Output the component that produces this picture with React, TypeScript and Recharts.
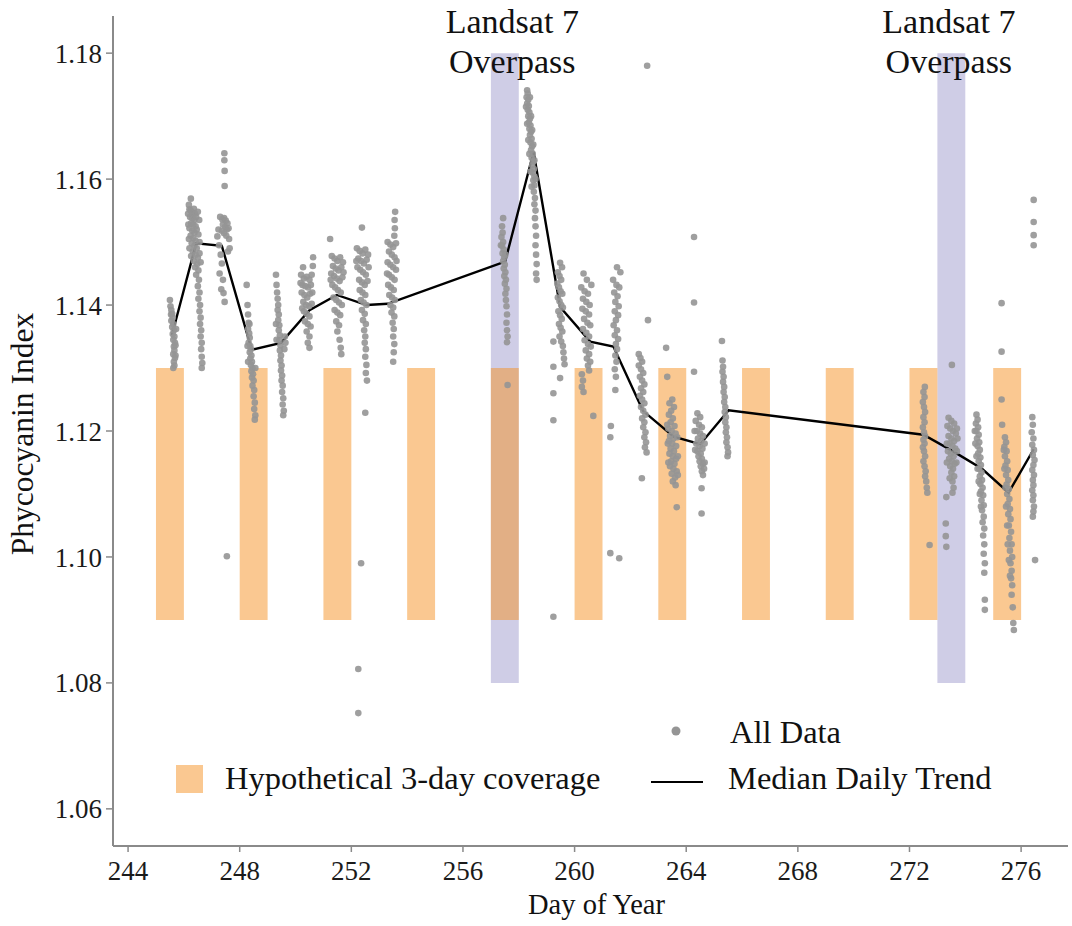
import React from 'react';
import { ComposedChart, Scatter, Line, XAxis, YAxis, ReferenceArea, Legend } from 'recharts';

const FONT = '"Liberation Serif", "Times New Roman", serif';

const xTicks = [244, 248, 252, 256, 260, 264, 268, 272, 276];
const yTicks = [1.06, 1.08, 1.1, 1.12, 1.14, 1.16, 1.18];

const coverageWindows: [number, number][] = [
  [245, 246], [248, 249], [251, 252], [254, 255], [257, 258], [260, 261],
  [263, 264], [266, 267], [269, 270], [272, 273], [275, 276],
];
const coverageRange: [number, number] = [1.09, 1.13];
const overpassWindows: [number, number][] = [[257, 258], [273, 274]];
const overpassRange: [number, number] = [1.08, 1.18];

const medianDays = [245.57, 246.44, 247.36, 248.43, 249.48, 250.5, 251.48, 252.55, 253.3, 257.51, 258.53, 259.48, 260.56, 261.39, 262.45, 263.55, 264.5, 265.52, 272.5, 273.55, 274.6, 275.55, 276.45];
const medianValues = [1.1352, 1.1498, 1.1494, 1.1329, 1.134, 1.1392, 1.1416, 1.14, 1.1402, 1.1469, 1.1643, 1.1397, 1.1342, 1.1334, 1.1232, 1.1191, 1.1179, 1.1233, 1.1194, 1.1168, 1.114, 1.1102, 1.1171];

const d245: [number, number][] = [[245.50,1.1408],[245.52,1.1398],[245.55,1.1392],[245.58,1.1386],[245.60,1.1380],[245.55,1.1375],[245.62,1.1370],[245.58,1.1365],[245.64,1.1360],[245.60,1.1354],[245.66,1.1350],[245.62,1.1345],[245.68,1.1340],[245.64,1.1334],[245.66,1.1328],[245.62,1.1322],[245.68,1.1316],[245.64,1.1310],[245.66,1.1304],[245.62,1.1300],[245.70,1.1336],[245.72,1.1362],[245.54,1.1385],[245.70,1.1320]];
const d246: [number, number][] = [[246.25,1.1569],[246.18,1.1559],[246.20,1.1552],[246.24,1.1550],[246.28,1.1548],[246.32,1.1546],[246.36,1.1553],[246.40,1.1545],[246.22,1.1540],[246.30,1.1538],[246.38,1.1535],[246.44,1.1540],[246.26,1.1530],[246.34,1.1528],[246.42,1.1525],[246.20,1.1522],[246.30,1.1518],[246.38,1.1515],[246.46,1.1520],[246.24,1.1510],[246.34,1.1506],[246.42,1.1502],[246.28,1.1498],[246.38,1.1494],[246.46,1.1490],[246.32,1.1485],[246.42,1.1480],[246.50,1.1475],[246.36,1.1470],[246.48,1.1465],[246.52,1.1455],[246.44,1.1448],[246.54,1.1440],[246.50,1.1430],[246.56,1.1420],[246.52,1.1410],[246.58,1.1400],[246.56,1.1390],[246.60,1.1380],[246.58,1.1370],[246.62,1.1360],[246.60,1.1350],[246.64,1.1340],[246.62,1.1330],[246.64,1.1318],[246.66,1.1308],[246.64,1.1300],[246.15,1.1545],[246.50,1.1548],[246.55,1.1535],[246.16,1.1528],[246.52,1.1512],[246.18,1.1505],[246.56,1.1500],[246.20,1.1490],[246.26,1.1478],[246.56,1.1482],[246.60,1.1468],[246.40,1.1460]];
const d247: [number, number][] = [[247.45,1.1641],[247.45,1.1630],[247.46,1.1613],[247.46,1.1589],[247.30,1.1540],[247.38,1.1536],[247.44,1.1538],[247.50,1.1534],[247.56,1.1530],[247.40,1.1528],[247.48,1.1524],[247.54,1.1520],[247.60,1.1522],[247.36,1.1518],[247.44,1.1514],[247.52,1.1510],[247.20,1.1509],[247.26,1.1495],[247.32,1.1480],[247.58,1.1485],[247.64,1.1490],[247.36,1.1466],[247.28,1.1450],[247.40,1.1440],[247.34,1.1425],[247.42,1.1419],[247.46,1.1405],[247.54,1.1001],[247.62,1.1505],[247.24,1.1520]];
const d248: [number, number][] = [[248.25,1.1432],[248.28,1.1400],[248.30,1.1385],[248.32,1.1372],[248.30,1.1362],[248.34,1.1355],[248.36,1.1348],[248.32,1.1340],[248.38,1.1335],[248.40,1.1330],[248.36,1.1325],[248.42,1.1320],[248.38,1.1315],[248.44,1.1310],[248.40,1.1305],[248.46,1.1300],[248.42,1.1295],[248.48,1.1290],[248.44,1.1285],[248.50,1.1280],[248.46,1.1272],[248.52,1.1265],[248.50,1.1255],[248.54,1.1245],[248.52,1.1235],[248.56,1.1225],[248.54,1.1218],[248.35,1.1370],[248.28,1.1335],[248.30,1.1310],[248.56,1.1300]];
const d249: [number, number][] = [[249.30,1.1448],[249.32,1.1432],[249.34,1.1420],[249.36,1.1410],[249.38,1.1400],[249.36,1.1392],[249.40,1.1385],[249.38,1.1376],[249.42,1.1368],[249.40,1.1360],[249.44,1.1352],[249.42,1.1344],[249.46,1.1336],[249.44,1.1328],[249.48,1.1320],[249.46,1.1312],[249.50,1.1304],[249.48,1.1296],[249.52,1.1288],[249.50,1.1280],[249.54,1.1272],[249.52,1.1262],[249.56,1.1252],[249.54,1.1242],[249.58,1.1232],[249.56,1.1225],[249.62,1.1350],[249.64,1.1340],[249.60,1.1330],[249.30,1.1370],[249.32,1.1345]];
const d250: [number, number][] = [[250.27,1.1460],[250.63,1.1476],[250.62,1.1462],[250.20,1.1448],[250.30,1.1442],[250.40,1.1445],[250.50,1.1440],[250.58,1.1448],[250.25,1.1432],[250.35,1.1430],[250.45,1.1428],[250.55,1.1432],[250.22,1.1420],[250.32,1.1416],[250.42,1.1412],[250.52,1.1418],[250.28,1.1405],[250.38,1.1400],[250.48,1.1398],[250.58,1.1402],[250.30,1.1390],[250.40,1.1386],[250.50,1.1382],[250.34,1.1374],[250.44,1.1370],[250.54,1.1366],[250.40,1.1358],[250.50,1.1350],[250.44,1.1340],[250.50,1.1332],[250.18,1.1435],[250.60,1.1420],[250.24,1.1395]];
const d251: [number, number][] = [[251.24,1.1505],[251.30,1.1478],[251.40,1.1474],[251.50,1.1470],[251.60,1.1476],[251.70,1.1468],[251.34,1.1462],[251.44,1.1458],[251.54,1.1455],[251.64,1.1460],[251.28,1.1450],[251.38,1.1446],[251.48,1.1442],[251.58,1.1438],[251.68,1.1444],[251.32,1.1432],[251.42,1.1428],[251.52,1.1424],[251.62,1.1420],[251.36,1.1412],[251.46,1.1408],[251.56,1.1404],[251.66,1.1400],[251.40,1.1392],[251.50,1.1388],[251.60,1.1384],[251.46,1.1374],[251.56,1.1368],[251.50,1.1358],[251.58,1.1345],[251.62,1.1332],[251.64,1.1322],[251.72,1.1452],[251.26,1.1440]];
const d252: [number, number][] = [[252.38,1.1523],[252.20,1.1490],[252.30,1.1486],[252.40,1.1482],[252.50,1.1488],[252.60,1.1480],[252.25,1.1474],[252.35,1.1470],[252.45,1.1466],[252.55,1.1472],[252.22,1.1460],[252.32,1.1456],[252.42,1.1452],[252.52,1.1448],[252.28,1.1440],[252.38,1.1436],[252.48,1.1432],[252.58,1.1438],[252.30,1.1424],[252.40,1.1420],[252.50,1.1416],[252.34,1.1408],[252.44,1.1404],[252.54,1.1400],[252.38,1.1392],[252.48,1.1386],[252.42,1.1376],[252.52,1.1370],[252.46,1.1360],[252.50,1.1350],[252.48,1.1340],[252.52,1.1330],[252.50,1.1318],[252.54,1.1305],[252.52,1.1292],[252.56,1.1280],[252.50,1.1229],[252.35,1.0990],[252.25,1.0822],[252.25,1.0752],[252.62,1.1460],[252.18,1.1470]];
const d253: [number, number][] = [[253.57,1.1548],[253.55,1.1535],[253.56,1.1522],[253.54,1.1510],[253.30,1.1500],[253.40,1.1496],[253.50,1.1492],[253.60,1.1498],[253.35,1.1485],[253.45,1.1480],[253.55,1.1476],[253.30,1.1468],[253.40,1.1464],[253.50,1.1460],[253.60,1.1456],[253.35,1.1448],[253.45,1.1444],[253.55,1.1440],[253.32,1.1432],[253.42,1.1428],[253.52,1.1424],[253.36,1.1416],[253.46,1.1412],[253.56,1.1408],[253.40,1.1400],[253.50,1.1396],[253.44,1.1388],[253.54,1.1382],[253.48,1.1372],[253.52,1.1362],[253.50,1.1350],[253.54,1.1338],[253.52,1.1325],[253.50,1.1310],[253.62,1.1470],[253.28,1.1450]];
const d257: [number, number][] = [[257.44,1.1538],[257.40,1.1525],[257.42,1.1515],[257.38,1.1508],[257.44,1.1500],[257.40,1.1494],[257.46,1.1488],[257.42,1.1482],[257.48,1.1476],[257.44,1.1470],[257.50,1.1464],[257.46,1.1458],[257.52,1.1452],[257.48,1.1446],[257.54,1.1440],[257.50,1.1434],[257.56,1.1426],[257.52,1.1418],[257.54,1.1408],[257.56,1.1398],[257.58,1.1385],[257.56,1.1372],[257.58,1.1360],[257.60,1.1350],[257.58,1.1341],[257.60,1.1273],[257.36,1.1495],[257.52,1.1480]];
const d258: [number, number][] = [[258.30,1.1741],[258.32,1.1736],[258.28,1.1730],[258.34,1.1726],[258.30,1.1720],[258.36,1.1716],[258.32,1.1710],[258.38,1.1706],[258.34,1.1700],[258.40,1.1696],[258.36,1.1690],[258.42,1.1685],[258.38,1.1680],[258.44,1.1675],[258.40,1.1670],[258.46,1.1664],[258.42,1.1658],[258.48,1.1652],[258.44,1.1646],[258.50,1.1640],[258.46,1.1634],[258.52,1.1628],[258.48,1.1622],[258.54,1.1616],[258.50,1.1610],[258.56,1.1604],[258.52,1.1598],[258.56,1.1590],[258.54,1.1580],[258.58,1.1570],[258.56,1.1560],[258.60,1.1550],[258.58,1.1538],[258.60,1.1525],[258.62,1.1510],[258.60,1.1495],[258.62,1.1480],[258.64,1.1465],[258.62,1.1450],[258.64,1.1440],[258.40,1.1730],[258.26,1.1715],[258.44,1.1700],[258.30,1.1688],[258.48,1.1678],[258.34,1.1662],[258.52,1.1655],[258.38,1.1640],[258.56,1.1630],[258.42,1.1612],[258.60,1.1600],[258.46,1.1588]];
const d259: [number, number][] = [[259.48,1.1467],[259.55,1.1460],[259.40,1.1452],[259.46,1.1446],[259.52,1.1440],[259.38,1.1434],[259.44,1.1428],[259.50,1.1422],[259.56,1.1418],[259.40,1.1412],[259.46,1.1406],[259.52,1.1400],[259.58,1.1396],[259.42,1.1390],[259.48,1.1384],[259.54,1.1378],[259.44,1.1370],[259.50,1.1364],[259.56,1.1358],[259.46,1.1350],[259.52,1.1342],[259.58,1.1335],[259.60,1.1325],[259.62,1.1315],[259.64,1.1306],[259.24,1.1342],[259.24,1.1302],[259.24,1.1260],[259.24,1.1217],[259.48,1.1284],[259.24,1.0905]];
const d260: [number, number][] = [[260.32,1.1450],[260.44,1.1440],[260.60,1.1432],[260.24,1.1428],[260.36,1.1422],[260.48,1.1418],[260.30,1.1410],[260.42,1.1405],[260.54,1.1400],[260.28,1.1394],[260.40,1.1390],[260.52,1.1385],[260.34,1.1378],[260.46,1.1372],[260.56,1.1368],[260.30,1.1362],[260.42,1.1356],[260.52,1.1350],[260.36,1.1344],[260.48,1.1338],[260.58,1.1334],[260.40,1.1328],[260.52,1.1322],[260.44,1.1315],[260.56,1.1310],[260.48,1.1304],[260.52,1.1296],[260.26,1.1290],[260.30,1.1280],[260.26,1.1270],[260.32,1.1262],[260.67,1.1224]];
const d261: [number, number][] = [[261.52,1.1460],[261.64,1.1452],[261.38,1.1440],[261.50,1.1432],[261.60,1.1428],[261.42,1.1420],[261.54,1.1414],[261.46,1.1405],[261.58,1.1398],[261.44,1.1390],[261.56,1.1384],[261.48,1.1376],[261.40,1.1368],[261.52,1.1360],[261.44,1.1352],[261.56,1.1346],[261.48,1.1338],[261.52,1.1330],[261.46,1.1320],[261.50,1.1310],[261.44,1.1298],[261.48,1.1286],[261.46,1.1265],[261.30,1.1208],[261.28,1.1190],[261.28,1.1006],[261.60,1.0998]];
const d262: [number, number][] = [[262.60,1.1780],[262.63,1.1376],[262.30,1.1322],[262.36,1.1316],[262.42,1.1310],[262.30,1.1304],[262.38,1.1298],[262.46,1.1292],[262.34,1.1286],[262.42,1.1280],[262.50,1.1274],[262.38,1.1268],[262.46,1.1262],[262.34,1.1256],[262.42,1.1250],[262.50,1.1244],[262.38,1.1238],[262.46,1.1232],[262.54,1.1226],[262.42,1.1220],[262.50,1.1214],[262.46,1.1206],[262.54,1.1198],[262.50,1.1190],[262.56,1.1182],[262.52,1.1174],[262.58,1.1166],[262.41,1.1125]];
const d263: [number, number][] = [[263.28,1.1332],[263.32,1.1286],[263.50,1.1250],[263.40,1.1244],[263.56,1.1238],[263.46,1.1232],[263.38,1.1226],[263.52,1.1220],[263.44,1.1214],[263.58,1.1208],[263.36,1.1204],[263.48,1.1200],[263.62,1.1196],[263.42,1.1192],[263.54,1.1188],[263.38,1.1184],[263.50,1.1180],[263.64,1.1176],[263.44,1.1172],[263.56,1.1168],[263.40,1.1164],[263.52,1.1160],[263.64,1.1156],[263.46,1.1152],[263.58,1.1148],[263.42,1.1144],[263.54,1.1140],[263.66,1.1136],[263.48,1.1132],[263.60,1.1126],[263.52,1.1120],[263.62,1.1114],[263.66,1.1079],[263.32,1.1210],[263.34,1.1180],[263.36,1.1150],[263.68,1.1190],[263.70,1.1160],[263.70,1.1130]];
const d264: [number, number][] = [[264.28,1.1508],[264.28,1.1404],[264.28,1.1294],[264.40,1.1228],[264.50,1.1222],[264.34,1.1216],[264.46,1.1210],[264.56,1.1206],[264.38,1.1200],[264.50,1.1196],[264.60,1.1192],[264.42,1.1188],[264.54,1.1184],[264.36,1.1180],[264.48,1.1176],[264.58,1.1172],[264.40,1.1168],[264.52,1.1164],[264.44,1.1160],[264.56,1.1156],[264.48,1.1152],[264.60,1.1148],[264.52,1.1144],[264.64,1.1140],[264.56,1.1136],[264.60,1.1130],[264.55,1.1109],[264.55,1.1069],[264.30,1.1200],[264.32,1.1170],[264.66,1.1180],[264.66,1.1150]];
const d265: [number, number][] = [[265.28,1.1343],[265.30,1.1312],[265.32,1.1302],[265.30,1.1294],[265.34,1.1286],[265.32,1.1278],[265.36,1.1270],[265.34,1.1262],[265.38,1.1254],[265.36,1.1246],[265.40,1.1238],[265.38,1.1230],[265.42,1.1222],[265.40,1.1214],[265.44,1.1206],[265.42,1.1198],[265.46,1.1190],[265.44,1.1182],[265.48,1.1174],[265.50,1.1166],[265.48,1.1160]];
const d272: [number, number][] = [[272.55,1.1270],[272.50,1.1262],[272.54,1.1254],[272.48,1.1246],[272.52,1.1238],[272.56,1.1230],[272.50,1.1222],[272.54,1.1214],[272.48,1.1206],[272.52,1.1198],[272.56,1.1192],[272.50,1.1186],[272.54,1.1180],[272.48,1.1174],[272.52,1.1168],[272.56,1.1160],[272.50,1.1152],[272.54,1.1144],[272.58,1.1136],[272.56,1.1128],[272.60,1.1120],[272.62,1.1110],[272.64,1.1102],[272.72,1.1019]];
const d273: [number, number][] = [[273.52,1.1305],[273.40,1.1221],[273.50,1.1216],[273.60,1.1212],[273.36,1.1208],[273.46,1.1204],[273.56,1.1200],[273.66,1.1196],[273.40,1.1192],[273.50,1.1188],[273.60,1.1184],[273.44,1.1180],[273.54,1.1176],[273.64,1.1172],[273.38,1.1168],[273.48,1.1164],[273.58,1.1160],[273.42,1.1156],[273.52,1.1152],[273.62,1.1148],[273.46,1.1144],[273.56,1.1140],[273.50,1.1134],[273.60,1.1128],[273.54,1.1120],[273.58,1.1110],[273.54,1.1102],[273.32,1.1095],[273.30,1.1053],[273.30,1.1033],[273.32,1.1016],[273.70,1.1204],[273.72,1.1188],[273.70,1.1168],[273.34,1.1180],[273.34,1.1150],[273.68,1.1150],[273.44,1.1125]];
const d274: [number, number][] = [[274.40,1.1226],[274.44,1.1218],[274.38,1.1212],[274.46,1.1206],[274.40,1.1200],[274.48,1.1194],[274.42,1.1188],[274.50,1.1182],[274.44,1.1176],[274.52,1.1170],[274.46,1.1164],[274.54,1.1158],[274.48,1.1152],[274.56,1.1146],[274.50,1.1140],[274.58,1.1134],[274.52,1.1128],[274.60,1.1122],[274.54,1.1116],[274.62,1.1110],[274.56,1.1104],[274.64,1.1098],[274.58,1.1090],[274.66,1.1082],[274.60,1.1074],[274.66,1.1064],[274.62,1.1055],[274.68,1.1045],[274.64,1.1034],[274.68,1.1020],[274.66,1.1005],[274.70,1.0990],[274.68,1.0975],[274.70,1.0932],[274.70,1.0916],[274.34,1.1200],[274.36,1.1180],[274.40,1.1160],[274.44,1.1140],[274.48,1.1120],[274.52,1.1100],[274.56,1.1080]];
const d275: [number, number][] = [[275.30,1.1403],[275.30,1.1326],[275.30,1.1250],[275.32,1.1210],[275.42,1.1190],[275.46,1.1182],[275.40,1.1175],[275.48,1.1168],[275.42,1.1160],[275.50,1.1152],[275.44,1.1145],[275.52,1.1138],[275.46,1.1130],[275.54,1.1122],[275.48,1.1115],[275.56,1.1108],[275.50,1.1100],[275.58,1.1092],[275.52,1.1084],[275.60,1.1076],[275.54,1.1068],[275.62,1.1060],[275.56,1.1050],[275.64,1.1040],[275.58,1.1030],[275.66,1.1020],[275.60,1.1010],[275.68,1.1000],[275.62,1.0990],[275.66,1.0978],[275.64,1.0966],[275.68,1.0955],[275.66,1.0940],[275.70,1.0920],[275.72,1.0895],[275.74,1.0884],[275.38,1.1170],[275.40,1.1140],[275.44,1.1110],[275.46,1.1080],[275.50,1.1050],[275.52,1.1020],[275.56,1.0995],[275.60,1.0970]];
const d276: [number, number][] = [[276.45,1.1567],[276.45,1.1532],[276.45,1.1511],[276.45,1.1495],[276.40,1.1222],[276.42,1.1210],[276.38,1.1198],[276.44,1.1188],[276.40,1.1178],[276.46,1.1170],[276.42,1.1162],[276.48,1.1154],[276.44,1.1146],[276.40,1.1138],[276.46,1.1130],[276.42,1.1122],[276.44,1.1114],[276.40,1.1106],[276.44,1.1098],[276.42,1.1090],[276.46,1.1080],[276.44,1.1072],[276.42,1.1064],[276.50,1.0995]];

const allDays = [d245, d246, d247, d248, d249, d250, d251, d252, d253, d257, d258, d259, d260, d261, d262, d263, d264, d265, d272, d273, d274, d275, d276];
const allPoints = allDays.flat().map(([x, y]) => ({ x, y }));
const medianData = medianDays.map((x, i) => ({ x, y: medianValues[i] }));

const ORANGE = '#F59123';
const PURPLE = '#CFCDE6';
const POINT = '#959595';

const Dot = (props: any) => {
  const { cx, cy } = props;
  if (cx == null || cy == null) return null;
  return <circle cx={cx} cy={cy} r={3.3} fill={POINT} fillOpacity={0.9} />;
};

const OverpassLabel = (props: any) => {
  const vb = props.viewBox || {};
  const cx = vb.x + vb.width / 2 + (props.dx || 0);
  return (
    <g>
      <text x={cx} y={vb.y - 20} textAnchor="middle" fontFamily={FONT} fontSize={34} fill="#111">Landsat 7</text>
      <text x={cx} y={vb.y + 20} textAnchor="middle" fontFamily={FONT} fontSize={34} fill="#111">Overpass</text>
    </g>
  );
};

const XTitle = (props: any) => {
  const vb = props.viewBox || {};
  return (
    <text x={vb.x + vb.width / 2 + 6} y={vb.y + 68} textAnchor="middle" fontFamily={FONT} fontSize={28.5} fill="#111">Day of Year</text>
  );
};

const YTitle = (props: any) => {
  const vb = props.viewBox || {};
  const x = vb.x + 33;
  const y = vb.y + vb.height / 2 + 3;
  return (
    <text x={x} y={y} transform={`rotate(-90, ${x}, ${y})`} textAnchor="middle" fontFamily={FONT} fontSize={31.5} fill="#111">Phycocyanin Index</text>
  );
};

const LegendContent = () => (
  <svg width={1072} height={926} style={{ position: 'absolute', left: 0, top: 0, overflow: 'visible', pointerEvents: 'none' }}>
    <circle cx={676} cy={731} r={4.5} fill={POINT} />
    <text x={730} y={743} fontFamily={FONT} fontSize={32.5} fill="#111">All Data</text>
    <rect x={176} y={765} width={27} height={28} fill={ORANGE} fillOpacity={0.5} />
    <text x={225} y={789} fontFamily={FONT} fontSize={32.5} fill="#111">Hypothetical 3-day coverage</text>
    <line x1={651} y1={782} x2={703} y2={782} stroke="#000" strokeWidth={2} />
    <text x={728} y={789} fontFamily={FONT} fontSize={32.5} fill="#111">Median Daily Trend</text>
  </svg>
);

const labelDx = [7.5, -2.5];

export default function App() {
  return (
    <div style={{ position: 'absolute', left: 0, top: 0, width: 1072, height: 926, background: '#fff' }}>
      <ComposedChart width={1072} height={926} margin={{ top: 16, right: 4, bottom: 0, left: 0 }}>
        <XAxis
          type="number"
          dataKey="x"
          domain={[243.46, 277.68]}
          allowDataOverflow
          ticks={xTicks}
          interval={0}
          height={80}
          tickSize={6}
          tickMargin={9}
          axisLine={{ stroke: '#8a8a8a', strokeWidth: 2 }}
          tickLine={{ stroke: '#8a8a8a', strokeWidth: 1.5 }}
          tick={{ fontSize: 27, fontFamily: FONT, fill: '#1a1a1a' }}
          label={<XTitle />}
        />
        <YAxis
          type="number"
          dataKey="y"
          domain={[1.0541, 1.1859]}
          allowDataOverflow
          ticks={yTicks}
          interval={0}
          width={113}
          tickSize={7}
          tickMargin={4}
          tickFormatter={(v: number) => v.toFixed(2)}
          axisLine={{ stroke: '#8a8a8a', strokeWidth: 2 }}
          tickLine={{ stroke: '#8a8a8a', strokeWidth: 1.5 }}
          tick={{ fontSize: 27, fontFamily: FONT, fill: '#1a1a1a' }}
          label={<YTitle />}
        />
        {overpassWindows.map(([a, b], i) => (
          <ReferenceArea
            key={`p${i}`}
            x1={a}
            x2={b}
            y1={overpassRange[0]}
            y2={overpassRange[1]}
            fill={PURPLE}
            fillOpacity={1}
            stroke="none"
            label={<OverpassLabel dx={labelDx[i]} />}
          />
        ))}
        {coverageWindows.map(([a, b], i) => (
          <ReferenceArea
            key={`o${i}`}
            x1={a}
            x2={b}
            y1={coverageRange[0]}
            y2={coverageRange[1]}
            fill={ORANGE}
            fillOpacity={0.5}
            stroke="none"
          />
        ))}
        <Scatter data={allPoints} dataKey="y" shape={<Dot />} isAnimationActive={false} />
        <Line data={medianData} dataKey="y" type="linear" stroke="#000" strokeWidth={2.4} dot={false} isAnimationActive={false} />
        <Legend
          layout="vertical"
          align="center"
          verticalAlign="middle"
          wrapperStyle={{ left: 0, top: 0, width: 0, height: 0, overflow: 'visible' }}
          content={<LegendContent />}
        />
      </ComposedChart>
    </div>
  );
}
